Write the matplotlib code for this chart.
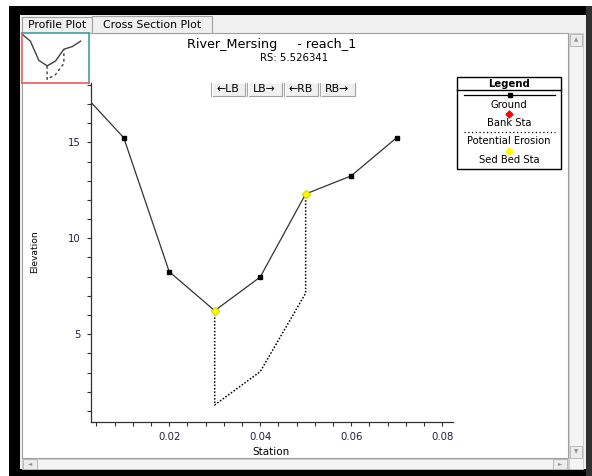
import matplotlib
matplotlib.use("Agg")
import matplotlib.pyplot as plt
from matplotlib.patches import Rectangle
from matplotlib.ticker import MultipleLocator

plt.rcParams['font.family'] = ['DejaVu Sans']

# ground profile
station = [0.0, 0.01, 0.02, 0.03, 0.04, 0.05, 0.06, 0.07]
elevation = [17.8, 15.24, 8.26, 6.23, 7.98, 12.31, 13.25, 15.24]

# sed bed stations (bank points)
bed_sta = [0.03, 0.05]
bed_elev = [6.23, 12.31]

# potential erosion line
ero_sta = [0.03, 0.03, 0.04, 0.05, 0.05]
ero_elev = [6.23, 1.32, 3.05, 7.14, 12.31]

W, H = 592, 476
fig = plt.figure(figsize=(W / 100, H / 100), dpi=100)

# window chrome drawn in pixel coords
bg = fig.add_axes([0, 0, 1, 1])
bg.set_xlim(0, W)
bg.set_ylim(H, 0)
bg.axis('off')


def box(x0, y0, x1, y1, fc, ec='none', lw=1, z=1):
    bg.add_patch(Rectangle((x0, y0), x1 - x0, y1 - y0, facecolor=fc,
                           edgecolor=ec, linewidth=lw, zorder=z))


def txt(x, y, s, size, **kw):
    # y is the text baseline in pixels
    bg.text(x, y, s, ha='center', va='baseline', fontsize=size, zorder=3, **kw)


box(0, 0, W, H, 'white', z=0)
box(9, 6, W, 15, 'black')
box(9, 6, 20, H, 'black')
box(9, 469, W, H, 'black')
box(586, 6, W, H, '#303030')
box(20, 15, 586, 469, '#f0f0f0')
box(22, 33, 568, 458, 'white', ec='#a0a0a0', lw=0.8)

# tabs
box(22, 17, 92, 33, '#f0f0f0', ec='#a0a0a0', lw=0.8)
box(92, 16, 212, 33, '#f0f0f0', ec='#a0a0a0', lw=0.8)
txt(57, 28.5, 'Profile Plot', 7.8)
txt(152, 28, 'Cross Section Plot', 7.8)

# scroll bars
box(569, 33, 583, 469, '#f4f4f4', ec='#c8c8c8', lw=0.6)
box(570, 34, 582, 46, '#ececec', ec='#b0b0b0', lw=0.6)
box(570, 446, 582, 458, '#ececec', ec='#b0b0b0', lw=0.6)
bg.text(576, 40, '▲', ha='center', va='center', fontsize=4, color='#909090')
bg.text(576, 452, '▼', ha='center', va='center', fontsize=4, color='#909090')
box(22, 459, 568, 469, '#f4f4f4', ec='#c8c8c8', lw=0.6)
box(23, 459, 37, 469, '#ececec', ec='#b0b0b0', lw=0.6)
box(553, 459, 567, 469, '#ececec', ec='#b0b0b0', lw=0.6)
bg.text(30, 464, '◄', ha='center', va='center', fontsize=4, color='#909090')
bg.text(560, 464, '►', ha='center', va='center', fontsize=4, color='#909090')

# title
txt(272, 48.3, 'River_Mersing     - reach_1', 9.2)
txt(294, 60.7, 'RS: 5.526341', 7.3)

# buttons
buttons = [('←LB', 211, 245), ('LB→', 247, 282), ('←RB', 284, 318),
           ('RB→', 320, 355)]
for lab, x0, x1 in buttons:
    box(x0, 82.5, x1, 96, '#f0f0f0', ec='#a0a0a0', lw=0.8)
    bg.plot([x0 + 0.5, x0 + 0.5, x1 - 1], [95.5, 83, 83], color='white',
            lw=0.8, zorder=2)
    txt((x0 + x1) / 2, 91.5, lab, 7.8)

# legend
box(457, 77, 561, 169, 'white', ec='black', lw=1.0, z=2)
bg.plot([457, 561], [89.5, 89.5], color='black', lw=1.0, zorder=3)
txt(509, 87, 'Legend', 7.3, fontweight='bold')
bg.plot([464, 555], [95, 95], color='black', lw=0.9, zorder=3)
bg.plot([509.5], [95], marker='s', ms=3.5, color='black', zorder=3)
txt(509, 107.5, 'Ground', 7.2)
bg.plot([509], [113.7], marker='D', ms=3.5, color='red', mec='red', zorder=3)
txt(509, 126, 'Bank Sta', 7.2)
bg.plot([464, 555], [132, 132], color='black', lw=0.9, ls=(0, (1, 2)),
        zorder=3)
txt(509, 144.3, 'Potential Erosion', 7.2)
bg.plot([509], [150.5], marker='D', ms=3.5, color='yellow', mec='yellow',
        zorder=3)
txt(509, 162.7, 'Sed Bed Sta', 7.2)

# axis labels
bg.text(35, 252, 'Elevation', ha='center', va='center', rotation=90,
        fontsize=6.6)
bg.text(271, 452, 'Station', ha='center', va='center', fontsize=7.5)

# main axes
ax = fig.add_axes([91 / W, 1 - 422 / H, (453 - 91) / W, (422 - 83) / H])
ax.patch.set_alpha(0)
ax.plot(station, elevation, color='#333333', lw=0.9, marker='s', ms=3.5,
        mfc='black', mec='black', zorder=3)
ax.plot(ero_sta, ero_elev, color='black', lw=1.1, ls=(0, (1, 1.2)), zorder=2)
ax.plot(bed_sta, bed_elev, ls='none', marker='D', ms=4, color='yellow',
        mec='#e0e000', zorder=4)
ax.set_xlim(0.0028, 0.0824)
ax.set_ylim(0.43, 18.09)
for s in ['top', 'right']:
    ax.spines[s].set_visible(False)
for s in ['left', 'bottom']:
    ax.spines[s].set_color('#303030')
    ax.spines[s].set_linewidth(0.9)
ax.xaxis.set_major_locator(MultipleLocator(0.02))
ax.xaxis.set_minor_locator(MultipleLocator(0.004))
ax.yaxis.set_major_locator(MultipleLocator(5))
ax.yaxis.set_minor_locator(MultipleLocator(1))
ax.set_xticks([0.02, 0.04, 0.06, 0.08])
ax.set_xticklabels(['0.02', '0.04', '0.06', '0.08'])
ax.tick_params(which='both', direction='out', length=3, width=0.8,
               color='#303030', labelsize=7.3, labelcolor='#20203a', pad=4.5)

# thumbnail
th = fig.add_axes([22 / W, 1 - 83 / H, (89 - 22) / W, (83 - 33) / H])
th.plot(station, elevation, color='#404040', lw=1.0)
th.plot(ero_sta, ero_elev, color='#404040', lw=1.0, ls=(0, (2, 2)))
th.set_xlim(0, 0.08)
th.set_ylim(0, 18.2)
th.set_xticks([])
th.set_yticks([])
th.spines['left'].set_color('#e06060')
th.spines['bottom'].set_color('#e06060')
th.spines['top'].set_color('#40a0a0')
th.spines['right'].set_color('#40a0a0')
for s in th.spines.values():
    s.set_linewidth(1.2)

fig.savefig('out.png', dpi=100)
